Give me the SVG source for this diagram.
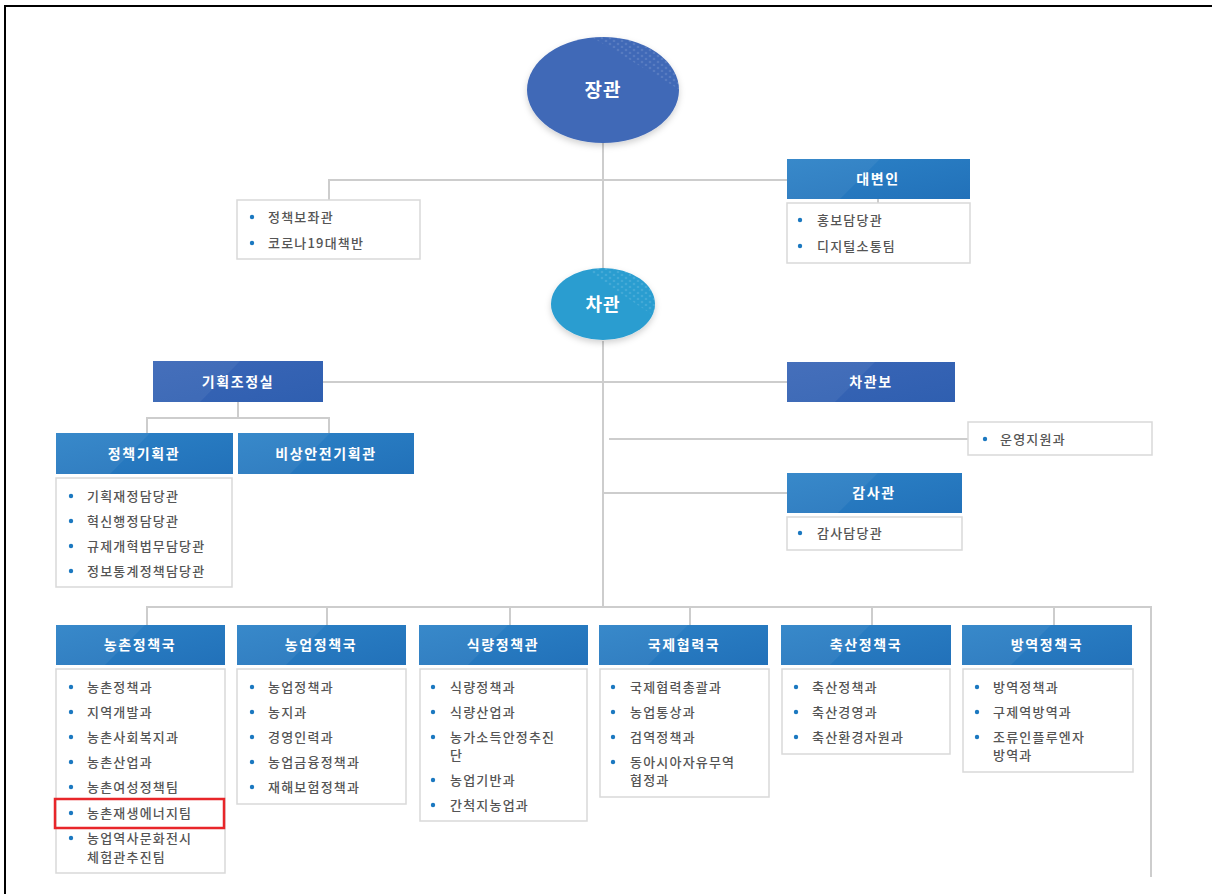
<svg xmlns="http://www.w3.org/2000/svg" width="1212" height="894" viewBox="0 0 1212 894">
  <style>
    .ln { stroke: #cdcdcd; stroke-width: 2; fill: none; }
    .box { fill: #ffffff; stroke: #d9d9d9; stroke-width: 1.5; }
    .hdr { fill: url(#gBlue); }
    .hdr2 { fill: url(#gIndigo); }
    .shine { fill: #ffffff; opacity: 0.06; }
    .ht { font-family: "Noto Sans CJK KR", "Noto Sans", sans-serif; font-size: 14px; font-weight: 700; fill: #ffffff; text-anchor: middle; letter-spacing: 1.6px; }
    .it { font-family: "Noto Sans CJK KR", "Noto Sans", sans-serif; font-size: 13px; font-weight: 500; fill: #555555; letter-spacing: 1.2px; }
    .bl { fill: #1b78c0; }
    .ct { font-family: "Noto Sans CJK KR", "Noto Sans", sans-serif; font-size: 19px; font-weight: 700; fill: #ffffff; text-anchor: middle; letter-spacing: 1px; }
  </style>
  <defs>
    <linearGradient id="gBlue" x1="0" y1="0" x2="1" y2="1">
      <stop offset="0" stop-color="#2c82c7"/>
      <stop offset="1" stop-color="#2271b9"/>
    </linearGradient>
    <linearGradient id="gIndigo" x1="0" y1="0" x2="1" y2="1">
      <stop offset="0" stop-color="#3a66b7"/>
      <stop offset="1" stop-color="#2f5fb0"/>
    </linearGradient>
    <filter id="sh" x="-20%" y="-20%" width="140%" height="150%">
      <feDropShadow dx="0" dy="3" stdDeviation="3" flood-color="#000000" flood-opacity="0.18"/>
    </filter>
    <pattern id="dots" x="0" y="0" width="8" height="6" patternUnits="userSpaceOnUse">
      <circle cx="2" cy="2" r="1.3" fill="#ffffff"/>
      <circle cx="6" cy="5" r="1.3" fill="#ffffff"/>
    </pattern>
  </defs>

  <rect width="1212" height="894" fill="#ffffff"/>
  <!-- frame -->
  <path d="M5,894 V6 H1212" fill="none" stroke="#000000" stroke-width="2"/>

  <!-- connectors -->
  <g id="connectors">
    <line class="ln" x1="603" y1="143" x2="603" y2="268"/>
    <line class="ln" x1="329" y1="180" x2="787" y2="180"/>
    <line class="ln" x1="329" y1="179" x2="329" y2="200"/>
    <line class="ln" x1="878" y1="199" x2="878" y2="203"/>
    <line class="ln" x1="603" y1="341" x2="603" y2="608"/>
    <line class="ln" x1="323" y1="382" x2="787" y2="382"/>
    <line class="ln" x1="238" y1="402" x2="238" y2="418"/>
    <polyline class="ln" points="147,433 147,418 329,418 329,433"/>
    <line class="ln" x1="609" y1="439" x2="968" y2="439"/>
    <line class="ln" x1="603" y1="493" x2="787" y2="493"/>
    <polyline class="ln" points="147,625 147,607 1151,607 1151,877"/>
    <line class="ln" x1="327" y1="607" x2="327" y2="625"/>
    <line class="ln" x1="510" y1="607" x2="510" y2="625"/>
    <line class="ln" x1="690" y1="607" x2="690" y2="625"/>
    <line class="ln" x1="872" y1="607" x2="872" y2="625"/>
    <line class="ln" x1="1054" y1="607" x2="1054" y2="625"/>
  </g>

  <!-- minister -->
  <g id="minister">
    <ellipse cx="603" cy="90" rx="76" ry="53" fill="#4169b7" filter="url(#sh)"/>
    <clipPath id="cpMin"><path d="M590,36 L680,36 L680,90 Z"/></clipPath>
    <ellipse cx="603" cy="90" rx="76" ry="53" fill="url(#dots)" opacity="0.12" clip-path="url(#cpMin)"/>
    <text class="ct" x="603" y="97">장관</text>
  </g>

  <!-- vice minister -->
  <g id="vice-minister">
    <ellipse cx="603" cy="304" rx="52" ry="36" fill="#299dd0" filter="url(#sh)"/>
    <clipPath id="cpVice"><path d="M580,266 L660,266 L660,320 Z"/></clipPath>
    <ellipse cx="603" cy="304" rx="52" ry="36" fill="url(#dots)" opacity="0.12" clip-path="url(#cpVice)"/>
    <text class="ct" x="603" y="311" style="font-size:18px">차관</text>
  </g>

  <!-- staff to minister -->
  <g id="minister-staff">
    <rect class="box" x="237" y="200" width="183" height="59"/>
    <circle class="bl" cx="252" cy="217" r="2.2"/>
    <text class="it" x="268" y="222">정책보좌관</text>
    <circle class="bl" cx="252" cy="243" r="2.2"/>
    <text class="it" x="268" y="248">코로나19대책반</text>
  </g>

  <g id="spokesperson">
    <rect class="hdr" x="787" y="159" width="183" height="40"/>
    <path class="shine" d="M787,159 H880 L840,199 H787 Z"/>
    <text class="ht" x="878" y="184">대변인</text>
    <rect class="box" x="787" y="203" width="183" height="60"/>
    <circle class="bl" cx="800" cy="220" r="2.2"/>
    <text class="it" x="817" y="225">홍보담당관</text>
    <circle class="bl" cx="800" cy="246" r="2.2"/>
    <text class="it" x="817" y="251">디지털소통팀</text>
  </g>

  <g id="planning-office">
    <rect class="hdr2" x="153" y="361" width="170" height="41"/>
    <path class="shine" d="M153,361 H240 L200,402 H153 Z"/>
    <text class="ht" x="238" y="387">기획조정실</text>
  </g>

  <g id="policy-planning">
    <rect class="hdr" x="56" y="433" width="177" height="41"/>
    <path class="shine" d="M56,433 H150 L110,474 H56 Z"/>
    <text class="ht" x="144" y="459">정책기획관</text>
    <rect class="box" x="56" y="478" width="176" height="109"/>
    <circle class="bl" cx="71" cy="496" r="2.2"/>
    <text class="it" x="87" y="501">기획재정담당관</text>
    <circle class="bl" cx="71" cy="521" r="2.2"/>
    <text class="it" x="87" y="526">혁신행정담당관</text>
    <circle class="bl" cx="71" cy="546" r="2.2"/>
    <text class="it" x="87" y="551">규제개혁법무담당관</text>
    <circle class="bl" cx="71" cy="571" r="2.2"/>
    <text class="it" x="87" y="576">정보통계정책담당관</text>
  </g>

  <g id="emergency-planning">
    <rect class="hdr" x="238" y="433" width="176" height="41"/>
    <path class="shine" d="M238,433 H330 L290,474 H238 Z"/>
    <text class="ht" x="326" y="459">비상안전기획관</text>
  </g>

  <g id="vice-assistant">
    <rect class="hdr2" x="787" y="362" width="168" height="40"/>
    <path class="shine" d="M787,362 H875 L835,402 H787 Z"/>
    <text class="ht" x="871" y="387">차관보</text>
  </g>

  <g id="general-services">
    <rect class="box" x="968" y="422" width="184" height="33"/>
    <circle class="bl" cx="985" cy="439" r="2.2"/>
    <text class="it" x="1000" y="444">운영지원과</text>
  </g>

  <g id="audit">
    <rect class="hdr" x="787" y="473" width="175" height="40"/>
    <path class="shine" d="M787,473 H878 L838,513 H787 Z"/>
    <text class="ht" x="874" y="498">감사관</text>
    <rect class="box" x="787" y="517" width="175" height="33"/>
    <circle class="bl" cx="800" cy="533" r="2.2"/>
    <text class="it" x="817" y="538">감사담당관</text>
  </g>

  <!-- bureaus -->
  <g id="rural-policy">
    <rect class="hdr" x="56" y="625" width="169" height="40"/>
    <path class="shine" d="M56,625 H145 L105,665 H56 Z"/>
    <text class="ht" x="140" y="650">농촌정책국</text>
    <rect class="box" x="56" y="669" width="169" height="204"/>
    <circle class="bl" cx="71" cy="687" r="2.2"/>
    <text class="it" x="87" y="692">농촌정책과</text>
    <circle class="bl" cx="71" cy="712" r="2.2"/>
    <text class="it" x="87" y="717">지역개발과</text>
    <circle class="bl" cx="71" cy="737" r="2.2"/>
    <text class="it" x="87" y="742">농촌사회복지과</text>
    <circle class="bl" cx="71" cy="762" r="2.2"/>
    <text class="it" x="87" y="767">농촌산업과</text>
    <circle class="bl" cx="71" cy="787" r="2.2"/>
    <text class="it" x="87" y="792">농촌여성정책팀</text>
    <circle class="bl" cx="71" cy="813" r="2.2"/>
    <text class="it" x="87" y="818">농촌재생에너지팀</text>
    <rect x="55" y="799" width="169" height="29" fill="none" stroke="#e8262a" stroke-width="2.5"/>
    <circle class="bl" cx="71" cy="838" r="2.2"/>
    <text class="it" x="87" y="843">농업역사문화전시</text>
    <text class="it" x="87" y="862">체험관추진팀</text>
  </g>

  <g id="agri-policy">
    <rect class="hdr" x="237" y="625" width="169" height="40"/>
    <path class="shine" d="M237,625 H326 L286,665 H237 Z"/>
    <text class="ht" x="321" y="650">농업정책국</text>
    <rect class="box" x="237" y="669" width="169" height="135"/>
    <circle class="bl" cx="252" cy="687" r="2.2"/>
    <text class="it" x="268" y="692">농업정책과</text>
    <circle class="bl" cx="252" cy="712" r="2.2"/>
    <text class="it" x="268" y="717">농지과</text>
    <circle class="bl" cx="252" cy="737" r="2.2"/>
    <text class="it" x="268" y="742">경영인력과</text>
    <circle class="bl" cx="252" cy="762" r="2.2"/>
    <text class="it" x="268" y="767">농업금융정책과</text>
    <circle class="bl" cx="252" cy="787" r="2.2"/>
    <text class="it" x="268" y="792">재해보험정책과</text>
  </g>

  <g id="food-policy">
    <rect class="hdr" x="419" y="625" width="169" height="40"/>
    <path class="shine" d="M419,625 H508 L468,665 H419 Z"/>
    <text class="ht" x="503" y="650">식량정책관</text>
    <rect class="box" x="420" y="669" width="167" height="152"/>
    <circle class="bl" cx="433" cy="687" r="2.2"/>
    <text class="it" x="450" y="692">식량정책과</text>
    <circle class="bl" cx="433" cy="712" r="2.2"/>
    <text class="it" x="450" y="717">식량산업과</text>
    <circle class="bl" cx="433" cy="737" r="2.2"/>
    <text class="it" x="450" y="742">농가소득안정추진</text>
    <text class="it" x="450" y="760">단</text>
    <circle class="bl" cx="433" cy="780" r="2.2"/>
    <text class="it" x="450" y="785">농업기반과</text>
    <circle class="bl" cx="433" cy="805" r="2.2"/>
    <text class="it" x="450" y="810">간척지농업과</text>
  </g>

  <g id="intl-cooperation">
    <rect class="hdr" x="599" y="625" width="169" height="40"/>
    <path class="shine" d="M599,625 H688 L648,665 H599 Z"/>
    <text class="ht" x="684" y="650">국제협력국</text>
    <rect class="box" x="600" y="669" width="169" height="128"/>
    <circle class="bl" cx="613" cy="687" r="2.2"/>
    <text class="it" x="630" y="692">국제협력총괄과</text>
    <circle class="bl" cx="613" cy="712" r="2.2"/>
    <text class="it" x="630" y="717">농업통상과</text>
    <circle class="bl" cx="613" cy="737" r="2.2"/>
    <text class="it" x="630" y="742">검역정책과</text>
    <circle class="bl" cx="613" cy="762" r="2.2"/>
    <text class="it" x="630" y="767">동아시아자유무역</text>
    <text class="it" x="630" y="785">협정과</text>
  </g>

  <g id="livestock-policy">
    <rect class="hdr" x="781" y="625" width="170" height="40"/>
    <path class="shine" d="M781,625 H870 L830,665 H781 Z"/>
    <text class="ht" x="866" y="650">축산정책국</text>
    <rect class="box" x="782" y="669" width="168" height="85"/>
    <circle class="bl" cx="796" cy="687" r="2.2"/>
    <text class="it" x="812" y="692">축산정책과</text>
    <circle class="bl" cx="796" cy="712" r="2.2"/>
    <text class="it" x="812" y="717">축산경영과</text>
    <circle class="bl" cx="796" cy="737" r="2.2"/>
    <text class="it" x="812" y="742">축산환경자원과</text>
  </g>

  <g id="quarantine-policy">
    <rect class="hdr" x="962" y="625" width="170" height="40"/>
    <path class="shine" d="M962,625 H1051 L1011,665 H962 Z"/>
    <text class="ht" x="1047" y="650">방역정책국</text>
    <rect class="box" x="963" y="669" width="170" height="103"/>
    <circle class="bl" cx="977" cy="687" r="2.2"/>
    <text class="it" x="993" y="692">방역정책과</text>
    <circle class="bl" cx="977" cy="712" r="2.2"/>
    <text class="it" x="993" y="717">구제역방역과</text>
    <circle class="bl" cx="977" cy="737" r="2.2"/>
    <text class="it" x="993" y="742">조류인플루엔자</text>
    <text class="it" x="993" y="760">방역과</text>
  </g>
</svg>
